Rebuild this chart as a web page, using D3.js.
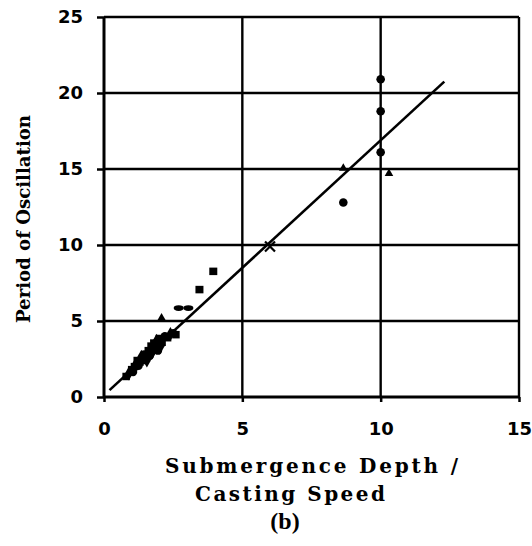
<!DOCTYPE html>
<html>
<head>
<meta charset="utf-8">
<script src="https://cdn.jsdelivr.net/npm/d3@7"></script>
<style>
  html, body { margin: 0; padding: 0; background: #fff; }
  svg text { font-family: "DejaVu Serif", serif; font-weight: bold; fill: #000; }
</style>
</head>
<body>
<div id="chart"></div>
<script>
// ---- data ----
const xTicks = [0, 5, 10, 15];
const yTicks = [0, 5, 10, 15, 20, 25];

// dense cluster near the origin (mixed markers)
const clusterX = [0.8, 0.9, 1.0, 1.05, 1.1, 1.15, 1.2, 1.25, 1.3, 1.35, 1.4, 1.45, 1.5, 1.55, 1.6, 1.65, 1.7, 1.75, 1.8, 1.85, 1.9, 1.95, 2.0, 2.05, 2.1, 2.2, 2.3, 2.4, 2.5, 2.6];
const clusterY = [1.35, 1.55, 1.8, 1.65, 2.0, 2.15, 2.4, 2.05, 2.3, 2.65, 2.4, 2.8, 2.7, 2.4, 3.05, 2.7, 3.35, 2.95, 3.55, 3.15, 3.7, 3.05, 3.85, 3.35, 3.6, 4.0, 3.9, 4.15, 4.2, 4.1];
const clusterShape = ["square", "diamond", "square", "circle", "square", "diamond", "square", "circle", "square", "diamond", "square", "circle", "square", "diamond", "square", "circle", "square", "diamond", "square", "square", "diamond", "circle", "square", "diamond", "square", "circle", "square", "diamond", "circle", "square"];

// isolated points
const circleX = [10.0, 10.0, 10.0, 8.65];
const circleY = [20.9, 18.8, 16.1, 12.8];
const squareX = [3.45, 3.95];
const squareY = [7.05, 8.25];
const dashX = [2.7, 3.05];
const dashY = [5.85, 5.85];
const triangleX = [2.08, 8.65, 10.3];
const triangleY = [5.2, 15.05, 14.7];
const crossX = [6.0];
const crossY = [9.9];

// fitted line end points
const fitX = [0.2, 12.3];
const fitY = [0.45, 20.75];

// ---- layout ----
const W = 532, H = 546;
const mLeft = 104, mRight = 519, mTop = 17, mBottom = 397;

const svg = d3.select("#chart").append("svg")
  .attr("width", W).attr("height", H)
  .attr("viewBox", [0, 0, W, H]);

const x = d3.scaleLinear().domain([0, 15]).range([mLeft, mRight]);
const y = d3.scaleLinear().domain([0, 25]).range([mBottom, mTop]);

// grid
svg.append("g")
  .selectAll("line")
  .data(yTicks.filter(d => d > 0))
  .join("line")
  .attr("x1", mLeft).attr("x2", mRight)
  .attr("y1", d => y(d)).attr("y2", d => y(d))
  .attr("stroke", "#000").attr("stroke-width", 2.4);

svg.append("g")
  .selectAll("line")
  .data(xTicks.filter(d => d > 0))
  .join("line")
  .attr("x1", d => x(d)).attr("x2", d => x(d))
  .attr("y1", mTop).attr("y2", mBottom)
  .attr("stroke", "#000").attr("stroke-width", 2.4);

// axes
const yAxis = svg.append("g")
  .attr("transform", `translate(${mLeft},0)`)
  .call(d3.axisLeft(y).tickValues(yTicks).tickSize(7).tickPadding(14));
const xAxis = svg.append("g")
  .attr("transform", `translate(0,${mBottom})`)
  .call(d3.axisBottom(x).tickValues(xTicks).tickSize(5).tickPadding(17));

[yAxis, xAxis].forEach(a => {
  a.select(".domain").attr("stroke", "#000").attr("stroke-width", 3);
  a.selectAll(".tick line").attr("stroke", "#000").attr("stroke-width", 2.5);
  a.selectAll(".tick text")
    .style("font-family", "'DejaVu Sans', sans-serif")
    .style("font-weight", "bold")
    .style("font-size", "18px")
    .attr("fill", "#000");
});
yAxis.select(".domain").attr("d", `M0,${mBottom}V${mTop}`);
xAxis.select(".domain").attr("d", `M${mLeft},0H${mRight}`);
xAxis.selectAll(".tick text").attr("dy", "0.9em");

// fitted line
svg.append("line")
  .attr("x1", x(fitX[0])).attr("y1", y(fitY[0]))
  .attr("x2", x(fitX[1])).attr("y2", y(fitY[1]))
  .attr("stroke", "#000").attr("stroke-width", 2.6);

// markers
const sym = {
  square: d3.symbol().type(d3.symbolSquare).size(56),
  circle: d3.symbol().type(d3.symbolCircle).size(56),
  diamond: d3.symbol().type(d3.symbolDiamond).size(56),
  triangle: d3.symbol().type(d3.symbolTriangle).size(32)
};

const cluster = clusterX.map((v, i) => ({ x: v, y: clusterY[i], s: clusterShape[i] }));
svg.append("g")
  .selectAll("path")
  .data(cluster)
  .join("path")
  .attr("transform", d => `translate(${x(d.x)},${y(d.y)})`)
  .attr("d", d => sym[d.s]())
  .attr("fill", "#000");

svg.append("g")
  .selectAll("circle")
  .data(circleX.map((v, i) => [v, circleY[i]]))
  .join("circle")
  .attr("cx", d => x(d[0])).attr("cy", d => y(d[1]))
  .attr("r", 4.3).attr("fill", "#000");

svg.append("g")
  .selectAll("rect")
  .data(squareX.map((v, i) => [v, squareY[i]]))
  .join("rect")
  .attr("x", d => x(d[0]) - 4).attr("y", d => y(d[1]) - 4)
  .attr("width", 8).attr("height", 7.5).attr("fill", "#000");

svg.append("g")
  .selectAll("ellipse")
  .data(dashX.map((v, i) => [v, dashY[i]]))
  .join("ellipse")
  .attr("cx", d => x(d[0])).attr("cy", d => y(d[1]))
  .attr("rx", 5).attr("ry", 2.8).attr("fill", "#000");

svg.append("g")
  .selectAll("path")
  .data(triangleX.map((v, i) => [v, triangleY[i]]))
  .join("path")
  .attr("transform", d => `translate(${x(d[0])},${y(d[1])})`)
  .attr("d", sym.triangle())
  .attr("fill", "#000");

svg.append("g")
  .selectAll("path")
  .data(crossX.map((v, i) => [v, crossY[i]]))
  .join("path")
  .attr("transform", d => `translate(${x(d[0])},${y(d[1])})`)
  .attr("d", "M-5,-5L5,5M-5,5L5,-5")
  .attr("stroke", "#000").attr("stroke-width", 2.2);

// titles
svg.append("text")
  .attr("transform", "translate(30,219) rotate(-90)")
  .attr("text-anchor", "middle")
  .attr("font-size", 19)
  .attr("textLength", 208).attr("lengthAdjust", "spacingAndGlyphs")
  .text("Period of Oscillation");

svg.append("text")
  .attr("x", 165).attr("y", 473)
  .attr("font-size", 20)
  .attr("textLength", 293).attr("lengthAdjust", "spacing")
  .text("Submergence Depth /");

svg.append("text")
  .attr("x", 195).attr("y", 501)
  .attr("font-size", 20)
  .attr("textLength", 190).attr("lengthAdjust", "spacing")
  .text("Casting Speed");

svg.append("text")
  .attr("x", 285).attr("y", 529)
  .attr("text-anchor", "middle")
  .style("font-family", "'Liberation Serif', serif")
  .attr("font-size", 24)
  .text("(b)");
</script>
</body>
</html>
